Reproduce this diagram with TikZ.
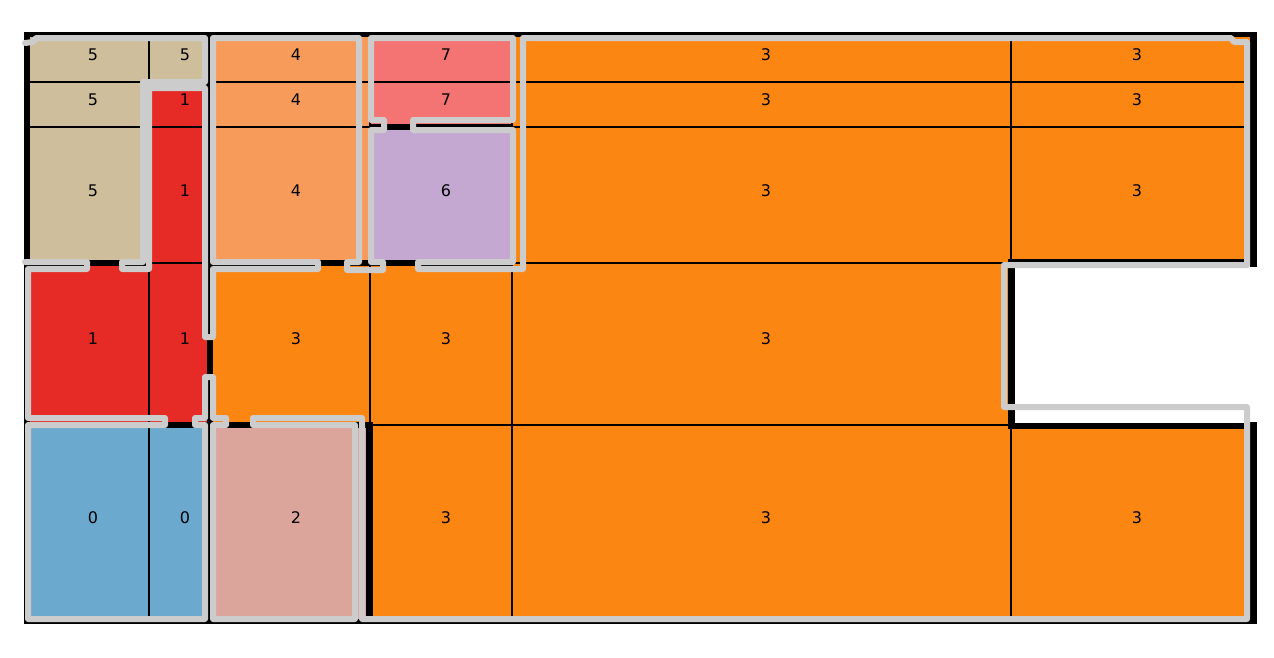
\documentclass[tikz,border=0pt]{standalone}
\usepackage{fontspec}
\setmainfont{DejaVu Sans}
\definecolor{ctan}{RGB}{206,190,155}
\definecolor{cred}{RGB}{230,42,37}
\definecolor{clor}{RGB}{247,155,91}
\definecolor{csal}{RGB}{244,115,115}
\definecolor{corg}{RGB}{252,134,18}
\definecolor{clav}{RGB}{196,168,210}
\definecolor{cblu}{RGB}{107,169,206}
\definecolor{cpnk}{RGB}{219,165,155}
\definecolor{gcol}{RGB}{204,204,204}
\begin{document}
\begin{tikzpicture}[x=1pt,y=-1pt,
  cellbox/.style={draw=black, line width=1.4pt},
  wallline/.style={draw=black, line width=6.5pt},
  contour/.style={draw=gcol, line width=6pt, line join=round, line cap=round},
  lab/.style={font=\fontsize{16}{16}\selectfont, inner sep=0pt, text=black}]
\useasboundingbox (0,0) rectangle (1274,657);
\fill[white] (0,0) rectangle (1274,657);
% ---- cells ----
% row 1
\path[cellbox, fill=ctan] (27,35) rectangle (149,82);
\path[cellbox, fill=ctan] (149,35) rectangle (210,82);
\path[cellbox, fill=clor] (210,35) rectangle (370,82);
\path[cellbox, fill=csal] (370,35) rectangle (512,82);
\path[cellbox, fill=corg] (512,35) rectangle (1011,82);
\path[cellbox, fill=corg] (1011,35) rectangle (1253,82);
% row 2
\path[cellbox, fill=ctan] (27,82) rectangle (149,127);
\path[cellbox, fill=cred] (149,82) rectangle (210,127);
\path[cellbox, fill=clor] (210,82) rectangle (370,127);
\path[cellbox, fill=csal] (370,82) rectangle (512,127);
\path[cellbox, fill=corg] (512,82) rectangle (1011,127);
\path[cellbox, fill=corg] (1011,82) rectangle (1253,127);
% row 3
\path[cellbox, fill=ctan] (27,127) rectangle (149,263);
\path[cellbox, fill=cred] (149,127) rectangle (210,263);
\path[cellbox, fill=clor] (210,127) rectangle (370,263);
\path[cellbox, fill=clav] (370,127) rectangle (512,263);
\path[cellbox, fill=corg] (512,127) rectangle (1011,263);
\path[cellbox, fill=corg] (1011,127) rectangle (1253,263);
% row 4
\path[cellbox, fill=cred] (27,263) rectangle (149,425);
\path[cellbox, fill=cred] (149,263) rectangle (210,425);
\path[cellbox, fill=corg] (210,263) rectangle (370,425);
\path[cellbox, fill=corg] (370,263) rectangle (512,425);
\path[cellbox, fill=corg] (512,263) rectangle (1011,425);
% row 5
\path[cellbox, fill=cblu] (27,425) rectangle (149,620);
\path[cellbox, fill=cblu] (149,425) rectangle (210,620);
\path[cellbox, fill=cpnk] (210,425) rectangle (370,620);
\path[cellbox, fill=corg] (370,425) rectangle (512,620);
\path[cellbox, fill=corg] (512,425) rectangle (1011,620);
\path[cellbox, fill=corg] (1011,425) rectangle (1253,620);
% ---- black walls ----
\draw[wallline, line width=5pt] (24,34) -- (1257,34);
\draw[wallline, line width=6pt] (27,32) -- (27,623);
\draw[wallline, line width=7pt] (1253.5,32) -- (1253.5,267);
\draw[wallline, line width=7pt] (1253.5,422) -- (1253.5,623);
\draw[wallline, line width=5pt] (24,621) -- (1257,621);
\draw[wallline, line width=4pt] (1008,261) -- (1257,261);
\draw[wallline, line width=7pt] (1011,259) -- (1011,429);
\draw[wallline, line width=6pt] (1008,425.5) -- (1257,425.5);
\draw[wallline] (27,263) -- (149,263);
\draw[wallline] (207,263) -- (512,263);
\draw[wallline] (27,425) -- (373,425);
\draw[wallline] (210,263) -- (210,425);
\draw[wallline] (209,425) -- (209,621);
\draw[wallline] (209,34) -- (209,263);
\draw[wallline, line width=7pt] (369.5,422) -- (369.5,621);
\draw[wallline] (370,127) -- (512,127);
% ---- grey contour ----
\draw[contour] (25,43) -- (33,42) -- (36,38) -- (205,38) -- (205,82) -- (143,82)
  -- (143,262) -- (122,262) -- (122,269) -- (149,269) -- (149,88) -- (205,88)
  -- (205,337) -- (213,337) -- (213,269) -- (318,269) -- (318,262) -- (213,262)
  -- (213,38) -- (359,38) -- (359,262) -- (347,262) -- (347,270) -- (383,270)
  -- (383,262) -- (371,262) -- (371,130) -- (384,130) -- (384,120) -- (371,120)
  -- (371,38) -- (513,38) -- (513,120) -- (413,120) -- (413,130) -- (513,130)
  -- (513,262) -- (418,262) -- (418,269) -- (523,269) -- (523,38) -- (1231,38)
  -- (1234,42) -- (1247,42) -- (1247,265) -- (1004,265) -- (1004,407)
  -- (1247,407) -- (1247,619) -- (362,619) -- (362,418) -- (253,418)
  -- (253,425) -- (355,425) -- (355,619) -- (213,619) -- (213,425) -- (226,425)
  -- (226,418) -- (213,418) -- (213,377) -- (205,377) -- (205,418) -- (195,418)
  -- (195,425) -- (205,425) -- (205,619) -- (28,619) -- (28,425) -- (165,425)
  -- (165,418) -- (28,418) -- (28,269) -- (87,269) -- (87,262) -- (25,262);
% ---- labels ----
\node[lab] (a1) at (93,55) {5};
\node[lab] (a2) at (185,55) {5};
\node[lab] (a3) at (296,55) {4};
\node[lab] (a4) at (446,55) {7};
\node[lab] (a5) at (766,55) {3};
\node[lab] (a6) at (1137,55) {3};
\node[lab] (b1) at (93,100) {5};
\node[lab] (b2) at (185,100) {1};
\node[lab] (b3) at (296,100) {4};
\node[lab] (b4) at (446,100) {7};
\node[lab] (b5) at (766,100) {3};
\node[lab] (b6) at (1137,100) {3};
\node[lab] (c1) at (93,191) {5};
\node[lab] (c2) at (185,191) {1};
\node[lab] (c3) at (296,191) {4};
\node[lab] (c4) at (446,191) {6};
\node[lab] (c5) at (766,191) {3};
\node[lab] (c6) at (1137,191) {3};
\node[lab] (d1) at (93,339) {1};
\node[lab] (d2) at (185,339) {1};
\node[lab] (d3) at (296,339) {3};
\node[lab] (d4) at (446,339) {3};
\node[lab] (d5) at (766,339) {3};
\node[lab] (e1) at (93,518) {0};
\node[lab] (e2) at (185,518) {0};
\node[lab] (e3) at (296,518) {2};
\node[lab] (e4) at (446,518) {3};
\node[lab] (e5) at (766,518) {3};
\node[lab] (e6) at (1137,518) {3};
\end{tikzpicture}
\end{document}
